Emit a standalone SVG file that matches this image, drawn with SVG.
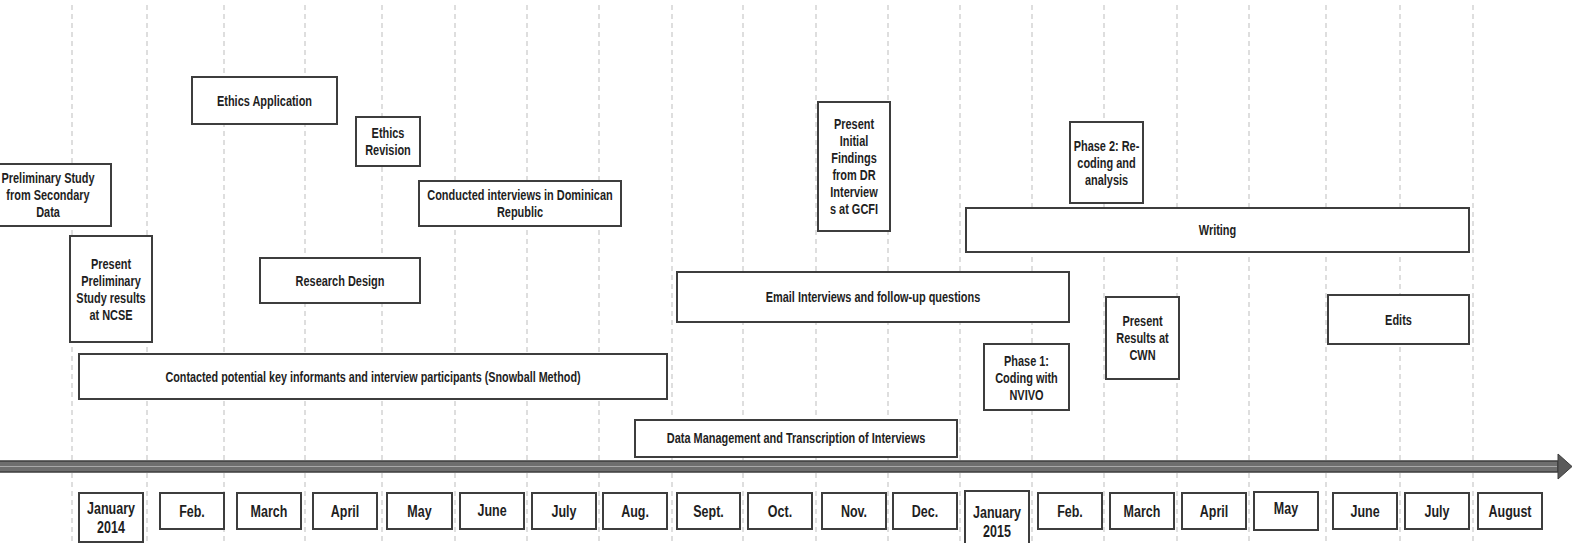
<svg xmlns="http://www.w3.org/2000/svg" width="1572" height="543" viewBox="0 0 1572 543">
  <style>
    .grid line { stroke: #bdbdbd; stroke-width: 1; stroke-dasharray: 5 4; }
    .box { fill: #ffffff; stroke: #3d3d3d; stroke-width: 2; }
    .t { font-family: "Liberation Sans", Arial, sans-serif; font-weight: bold; font-size: 15px; fill: #1e1e1e; text-anchor: middle; }
    .m { font-family: "Liberation Sans", Arial, sans-serif; font-weight: bold; font-size: 17px; fill: #1e1e1e; text-anchor: middle; }
  </style>
  <rect width="1572" height="543" fill="#ffffff"/>

  <!-- month gridlines -->
  <g id="gridlines" class="grid">
    <line x1="72" y1="5" x2="72" y2="543"/>
    <line x1="147" y1="5" x2="147" y2="543"/>
    <line x1="224" y1="5" x2="224" y2="543"/>
    <line x1="305" y1="5" x2="305" y2="543"/>
    <line x1="382" y1="5" x2="382" y2="543"/>
    <line x1="455" y1="5" x2="455" y2="543"/>
    <line x1="527" y1="5" x2="527" y2="543"/>
    <line x1="599" y1="5" x2="599" y2="543"/>
    <line x1="672" y1="5" x2="672" y2="543"/>
    <line x1="743" y1="5" x2="743" y2="543"/>
    <line x1="816" y1="5" x2="816" y2="543"/>
    <line x1="888" y1="5" x2="888" y2="543"/>
    <line x1="960" y1="5" x2="960" y2="543"/>
    <line x1="1032" y1="5" x2="1032" y2="543"/>
    <line x1="1104" y1="5" x2="1104" y2="543"/>
    <line x1="1177" y1="5" x2="1177" y2="543"/>
    <line x1="1249" y1="5" x2="1249" y2="543"/>
    <line x1="1326" y1="5" x2="1326" y2="543"/>
    <line x1="1400" y1="5" x2="1400" y2="543"/>
    <line x1="1473" y1="5" x2="1473" y2="543"/>
  </g>

  <!-- time axis -->
  <g id="connectors">
    <g id="time-axis">
      <rect x="-2" y="461" width="1560" height="11" fill="#6e6e6e" stroke="#3c3c3c" stroke-width="1.5"/>
      <line x1="0" y1="466.5" x2="1557" y2="466.5" stroke="#a8a8a8" stroke-width="1.2"/>
      <path d="M1558,454 L1572,466.5 L1558,479 Z" fill="#5a5a5a" stroke="#3c3c3c" stroke-width="1"/>
    </g>
  </g>

  <!-- activities -->
  <g id="preliminary-study">
    <rect class="box" x="-20" y="164" width="131" height="62"/>
    <text class="t" transform="translate(48,0) scale(0.73,1)"><tspan x="0" y="183.5">Preliminary Study</tspan><tspan x="0" y="200.5">from Secondary</tspan><tspan x="0" y="217.5">Data</tspan></text>
  </g>
  <g id="present-ncse">
    <rect class="box" x="70" y="236" width="82" height="106"/>
    <text class="t" transform="translate(111,0) scale(0.73,1)"><tspan x="0" y="269.5">Present</tspan><tspan x="0" y="286.5">Preliminary</tspan><tspan x="0" y="303.5">Study results</tspan><tspan x="0" y="320.5">at NCSE</tspan></text>
  </g>
  <g id="ethics-application">
    <rect class="box" x="192" y="77" width="145" height="47"/>
    <text class="t" transform="translate(264.5,0) scale(0.73,1)"><tspan x="0" y="106">Ethics Application</tspan></text>
  </g>
  <g id="ethics-revision">
    <rect class="box" x="356" y="117" width="64" height="49"/>
    <text class="t" transform="translate(388,0) scale(0.73,1)"><tspan x="0" y="138.5">Ethics</tspan><tspan x="0" y="155.5">Revision</tspan></text>
  </g>
  <g id="interviews-dr">
    <rect class="box" x="419" y="181" width="202" height="45"/>
    <text class="t" transform="translate(520,0) scale(0.73,1)"><tspan x="0" y="200.5">Conducted interviews in Dominican</tspan><tspan x="0" y="217.5">Republic</tspan></text>
  </g>
  <g id="research-design">
    <rect class="box" x="260" y="258" width="160" height="45"/>
    <text class="t" transform="translate(340,0) scale(0.73,1)"><tspan x="0" y="286">Research Design</tspan></text>
  </g>
  <g id="contacted-informants">
    <rect class="box" x="79" y="354" width="588" height="45"/>
    <text class="t" transform="translate(373,0) scale(0.72,1)"><tspan x="0" y="382">Contacted potential key informants and interview participants (Snowball Method)</tspan></text>
  </g>
  <g id="email-interviews">
    <rect class="box" x="677" y="272" width="392" height="50"/>
    <text class="t" transform="translate(873,0) scale(0.73,1)"><tspan x="0" y="302.5">Email Interviews and follow-up questions</tspan></text>
  </g>
  <g id="data-management">
    <rect class="box" x="635" y="420" width="322" height="37"/>
    <text class="t" transform="translate(796,0) scale(0.73,1)"><tspan x="0" y="443.5">Data Management and Transcription of Interviews</tspan></text>
  </g>
  <g id="present-gcfi">
    <rect class="box" x="818" y="102" width="72" height="129"/>
    <text class="t" transform="translate(854,0) scale(0.73,1)"><tspan x="0" y="129.5">Present</tspan><tspan x="0" y="146.5">Initial</tspan><tspan x="0" y="163.5">Findings</tspan><tspan x="0" y="180.5">from DR</tspan><tspan x="0" y="197.5">Interview</tspan><tspan x="0" y="214.5">s at GCFI</tspan></text>
  </g>
  <g id="phase-2">
    <rect class="box" x="1070" y="122" width="73" height="81"/>
    <text class="t" transform="translate(1106.5,0) scale(0.73,1)"><tspan x="0" y="151">Phase 2: Re-</tspan><tspan x="0" y="168">coding and</tspan><tspan x="0" y="185">analysis</tspan></text>
  </g>
  <g id="writing">
    <rect class="box" x="966" y="208" width="503" height="44"/>
    <text class="t" transform="translate(1217.5,0) scale(0.73,1)"><tspan x="0" y="235.5">Writing</tspan></text>
  </g>
  <g id="phase-1">
    <rect class="box" x="984" y="344" width="85" height="66"/>
    <text class="t" transform="translate(1026.5,0) scale(0.73,1)"><tspan x="0" y="366">Phase 1:</tspan><tspan x="0" y="383">Coding with</tspan><tspan x="0" y="400">NVIVO</tspan></text>
  </g>
  <g id="present-cwn">
    <rect class="box" x="1106" y="297" width="73" height="82"/>
    <text class="t" transform="translate(1142.5,0) scale(0.73,1)"><tspan x="0" y="326">Present</tspan><tspan x="0" y="343">Results at</tspan><tspan x="0" y="360">CWN</tspan></text>
  </g>
  <g id="edits">
    <rect class="box" x="1328" y="295" width="141" height="49"/>
    <text class="t" transform="translate(1398.5,0) scale(0.73,1)"><tspan x="0" y="325">Edits</tspan></text>
  </g>

  <!-- month labels -->
  <g id="month-jan-2014">
    <rect class="box" x="79" y="493" width="64" height="49"/>
    <text class="m" transform="translate(111,0) scale(0.735,1)"><tspan x="0" y="514">January</tspan><tspan x="0" y="533">2014</tspan></text>
  </g>
  <g id="month-feb-2014">
    <rect class="box" x="160" y="493" width="64" height="36"/>
    <text class="m" transform="translate(192,0) scale(0.735,1)"><tspan x="0" y="517">Feb.</tspan></text>
  </g>
  <g id="month-mar-2014">
    <rect class="box" x="237" y="493" width="64" height="36"/>
    <text class="m" transform="translate(269,0) scale(0.735,1)"><tspan x="0" y="517">March</tspan></text>
  </g>
  <g id="month-apr-2014">
    <rect class="box" x="313" y="493" width="64" height="36"/>
    <text class="m" transform="translate(345,0) scale(0.735,1)"><tspan x="0" y="517">April</tspan></text>
  </g>
  <g id="month-may-2014">
    <rect class="box" x="387" y="493" width="65" height="36"/>
    <text class="m" transform="translate(419.5,0) scale(0.735,1)"><tspan x="0" y="517">May</tspan></text>
  </g>
  <g id="month-jun-2014">
    <rect class="box" x="460" y="493" width="64" height="36"/>
    <text class="m" transform="translate(492,0) scale(0.735,1)"><tspan x="0" y="516">June</tspan></text>
  </g>
  <g id="month-jul-2014">
    <rect class="box" x="532" y="493" width="64" height="36"/>
    <text class="m" transform="translate(564,0) scale(0.735,1)"><tspan x="0" y="517">July</tspan></text>
  </g>
  <g id="month-aug-2014">
    <rect class="box" x="603" y="493" width="64" height="36"/>
    <text class="m" transform="translate(635,0) scale(0.735,1)"><tspan x="0" y="517">Aug.</tspan></text>
  </g>
  <g id="month-sep-2014">
    <rect class="box" x="677" y="493" width="63" height="36"/>
    <text class="m" transform="translate(708.5,0) scale(0.735,1)"><tspan x="0" y="517">Sept.</tspan></text>
  </g>
  <g id="month-oct-2014">
    <rect class="box" x="748" y="493" width="64" height="36"/>
    <text class="m" transform="translate(780,0) scale(0.735,1)"><tspan x="0" y="517">Oct.</tspan></text>
  </g>
  <g id="month-nov-2014">
    <rect class="box" x="822" y="493" width="64" height="36"/>
    <text class="m" transform="translate(854,0) scale(0.735,1)"><tspan x="0" y="517">Nov.</tspan></text>
  </g>
  <g id="month-dec-2014">
    <rect class="box" x="893" y="493" width="64" height="36"/>
    <text class="m" transform="translate(925,0) scale(0.735,1)"><tspan x="0" y="517">Dec.</tspan></text>
  </g>
  <g id="month-jan-2015">
    <rect class="box" x="965" y="491" width="64" height="56"/>
    <text class="m" transform="translate(997,0) scale(0.735,1)"><tspan x="0" y="518">January</tspan><tspan x="0" y="537">2015</tspan></text>
  </g>
  <g id="month-feb-2015">
    <rect class="box" x="1038" y="493" width="64" height="36"/>
    <text class="m" transform="translate(1070,0) scale(0.735,1)"><tspan x="0" y="517">Feb.</tspan></text>
  </g>
  <g id="month-mar-2015">
    <rect class="box" x="1110" y="493" width="64" height="36"/>
    <text class="m" transform="translate(1142,0) scale(0.735,1)"><tspan x="0" y="517">March</tspan></text>
  </g>
  <g id="month-apr-2015">
    <rect class="box" x="1182" y="493" width="64" height="36"/>
    <text class="m" transform="translate(1214,0) scale(0.735,1)"><tspan x="0" y="517">April</tspan></text>
  </g>
  <g id="month-may-2015">
    <rect class="box" x="1254" y="492" width="64" height="38"/>
    <text class="m" transform="translate(1286,0) scale(0.735,1)"><tspan x="0" y="514">May</tspan></text>
  </g>
  <g id="month-jun-2015">
    <rect class="box" x="1333" y="493" width="64" height="36"/>
    <text class="m" transform="translate(1365,0) scale(0.735,1)"><tspan x="0" y="517">June</tspan></text>
  </g>
  <g id="month-jul-2015">
    <rect class="box" x="1405" y="493" width="64" height="36"/>
    <text class="m" transform="translate(1437,0) scale(0.735,1)"><tspan x="0" y="517">July</tspan></text>
  </g>
  <g id="month-aug-2015">
    <rect class="box" x="1478" y="493" width="64" height="36"/>
    <text class="m" transform="translate(1510,0) scale(0.735,1)"><tspan x="0" y="517">August</tspan></text>
  </g>
</svg>
